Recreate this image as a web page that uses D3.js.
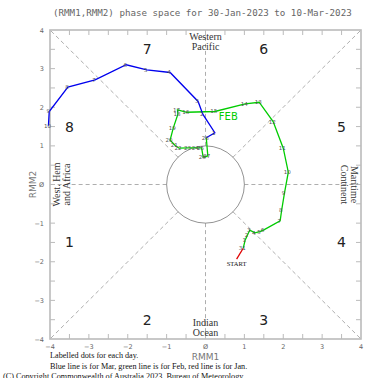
<!DOCTYPE html>
<html lang="en">
<head>
<meta charset="UTF-8">
<title>RMM phase space</title>
<script src="https://d3js.org/d3.v7.min.js"></script>
<style>
    body { margin: 0; background: #fff; }
    svg { display: block; }
</style>
</head>
<body>
<script>

    const w = 370;
    const h = 378;

    // days
    const janDays = [30, 31];
    const janX = [0.80, 0.97];
    const janY = [-1.93, -1.65];

    const febDays = d3.range(1, 29);
    const febX = [1.02, 1.08, 1.14, 1.27, 1.40, 1.49, 1.92, 1.96, 2.03, 2.13,
                  2.00, 1.74, 1.38, 1.02, 0.24, -0.48, -0.72, -0.71, -0.83, -0.91,
                  -0.78, -0.68, -0.44, -0.24, -0.10, -0.06, 0.06, 0.02];
    const febY = [-1.44, -1.31, -1.18, -1.25, -1.22, -1.18, -0.94, -0.66, -0.23, 0.32,
                  0.94, 1.63, 2.13, 2.09, 1.89, 1.87, 1.93, 1.82, 1.46, 1.15,
                  1.01, 0.94, 0.95, 0.95, 0.95, 0.71, 0.74, 1.21];

    const marDays = d3.range(1, 11);
    const marX = [0.24, -0.07, -0.19, -0.91, -1.51, -2.04, -2.84, -3.54, -4.02, -4.04];
    const marY = [1.34, 1.82, 2.15, 2.90, 2.97, 3.10, 2.71, 2.52, 1.89, 1.52];

    const ticks = [-4, -3, -2, -1, 0, 1, 2, 3, 4];
    const phaseLabels = [
        { p: "1", x: -3.5, y: -1.5 }, { p: "2", x: -1.5, y: -3.5 },
        { p: "3", x: 1.5, y: -3.5 }, { p: "4", x: 3.5, y: -1.5 },
        { p: "5", x: 3.5, y: 1.5 }, { p: "6", x: 1.5, y: 3.5 },
        { p: "7", x: -1.5, y: 3.5 }, { p: "8", x: -3.5, y: 1.5 }];

    const x = d3.scaleLinear().domain([-4, 4]).range([50, 361]);
    const y = d3.scaleLinear().domain([-4, 4]).range([339, 30]);

    const svg = d3.select("body").append("svg")
        .attr("width", w)
        .attr("height", h);

    // title
    svg.append("text")
        .attr("x", 53).attr("y", 16)
        .attr("font-family", "DejaVu Sans Mono")
        .attr("font-size", 9.2)
        .attr("fill", "#666")
        .text("(RMM1,RMM2) phase space for 30-Jan-2023 to 10-Mar-2023");

    // dashed phase dividers
    const dash = svg.append("g")
        .attr("stroke", "#999")
        .attr("stroke-width", 0.8)
        .attr("stroke-dasharray", "4,3")
        .attr("fill", "none");
    const r45 = Math.SQRT1_2;
    [[1, 1], [1, -1], [-1, 1], [-1, -1]].forEach(s => {
        dash.append("line")
            .attr("x1", x(s[0] * r45)).attr("y1", y(s[1] * r45))
            .attr("x2", x(s[0] * 4)).attr("y2", y(s[1] * 4));
    });
    [[0, 1], [0, -1], [1, 0], [-1, 0]].forEach(s => {
        dash.append("line")
            .attr("x1", x(s[0])).attr("y1", y(s[1]))
            .attr("x2", x(s[0] * 4)).attr("y2", y(s[1] * 4));
    });

    // unit circle
    svg.append("ellipse")
        .attr("cx", x(0)).attr("cy", y(0))
        .attr("rx", x(1) - x(0)).attr("ry", y(0) - y(1))
        .attr("fill", "none")
        .attr("stroke", "#777")
        .attr("stroke-width", 0.8);

    // frame + inward ticks
    const frame = svg.append("g").attr("stroke", "#bbb");
    frame.append("rect")
        .attr("x", x(-4)).attr("y", y(4))
        .attr("width", x(4) - x(-4)).attr("height", y(-4) - y(4))
        .attr("fill", "none")
        .attr("stroke-width", 1.6);
    const minor = d3.range(-3.5, 4, 0.5);
    minor.forEach(t => {
        frame.append("line").attr("x1", x(t)).attr("x2", x(t)).attr("y1", y(4)).attr("y2", y(4) + 5);
        frame.append("line").attr("x1", x(t)).attr("x2", x(t)).attr("y1", y(-4)).attr("y2", y(-4) - 5);
        frame.append("line").attr("y1", y(t)).attr("y2", y(t)).attr("x1", x(-4)).attr("x2", x(-4) + 5);
        frame.append("line").attr("y1", y(t)).attr("y2", y(t)).attr("x1", x(4)).attr("x2", x(4) - 5);
    });

    // tick labels
    const fmt = d => (d < 0 ? "\u2212" + Math.abs(d) : d === 0 ? "\u00d8" : String(d));
    svg.append("g").selectAll("text")
        .data(ticks).enter().append("text")
        .attr("x", d => x(d)).attr("y", y(-4) + 10)
        .attr("text-anchor", "middle")
        .attr("font-family", "DejaVu Sans")
        .attr("font-size", 6.5)
        .attr("fill", "#666")
        .text(fmt);
    svg.append("g").selectAll("text")
        .data(ticks).enter().append("text")
        .attr("x", x(-4) - 6).attr("y", d => y(d) + 2.5)
        .attr("text-anchor", "end")
        .attr("font-family", "DejaVu Sans")
        .attr("font-size", 6.5)
        .attr("fill", "#666")
        .text(fmt);

    // axis titles
    svg.append("text")
        .attr("x", x(0)).attr("y", 360)
        .attr("text-anchor", "middle")
        .attr("font-family", "DejaVu Sans")
        .attr("font-size", 9)
        .attr("fill", "#777")
        .text("RMM1");
    svg.append("text")
        .attr("transform", "translate(36," + y(0) + ") rotate(-90)")
        .attr("text-anchor", "middle")
        .attr("font-family", "DejaVu Sans")
        .attr("font-size", 9)
        .attr("fill", "#777")
        .text("RMM2");

    // phase numbers
    svg.append("g").selectAll("text")
        .data(phaseLabels).enter().append("text")
        .attr("x", d => x(d.x)).attr("y", d => y(d.y) + 5)
        .attr("text-anchor", "middle")
        .attr("font-family", "DejaVu Sans")
        .attr("font-size", 14)
        .attr("fill", "#222")
        .text(d => d.p);

    // region names
    const region = (lines, tx, ty, rot) => {
        const g = svg.append("g")
            .attr("transform", "translate(" + tx + "," + ty + ") rotate(" + rot + ")");
        lines.forEach((t, i) => {
            g.append("text")
                .attr("x", 0).attr("y", (i - (lines.length - 1) / 2) * 10 + 3.5)
                .attr("text-anchor", "middle")
                .attr("font-family", "Liberation Serif")
                .attr("font-size", 10)
                .attr("fill", "#333")
                .text(t);
        });
    };
    region(["Western", "Pacific"], x(0), y(3.7), 0);
    region(["Indian", "Ocean"], x(0), y(-3.7), 0);
    region(["West. Hem", "and Africa"], x(-3.7), y(0), -90);
    region(["Maritime", "Continent"], x(3.7), y(0), 90);

    // trajectories
    const line = d3.line().x(d => x(d.x)).y(d => y(d.y));
    const jan = janDays.map((d, i) => ({ day: d, x: janX[i], y: janY[i] }));
    const feb = febDays.map((d, i) => ({ day: d, x: febX[i], y: febY[i] }));
    const mar = marDays.map((d, i) => ({ day: d, x: marX[i], y: marY[i] }));

    const segs = [
        { pts: jan, colour: "#e00000" },
        { pts: [jan[jan.length - 1]].concat(feb), colour: "#00cc00" },
        { pts: [feb[feb.length - 1]].concat(mar), colour: "#0000ee" }];
    segs.forEach(s => {
        svg.append("path")
            .datum(s.pts)
            .attr("d", line)
            .attr("fill", "none")
            .attr("stroke", s.colour)
            .attr("stroke-width", 1.3);
    });

    // day labels
    const all = jan.concat(feb, mar);
    svg.append("g").selectAll("text")
        .data(all.slice(1)).enter().append("text")
        .attr("x", d => x(d.x) - 1).attr("y", d => y(d.y) + 2)
        .attr("text-anchor", "middle")
        .attr("font-family", "DejaVu Sans")
        .attr("font-size", 5.5)
        .attr("fill", "#555")
        .text(d => d.day);

    svg.append("text")
        .attr("x", x(jan[0].x)).attr("y", y(jan[0].y) + 7)
        .attr("text-anchor", "middle")
        .attr("font-family", "Liberation Serif")
        .attr("font-size", 6.5)
        .attr("fill", "#111")
        .text("START");

    svg.append("text")
        .attr("x", x(feb[14].x) + 4).attr("y", y(feb[14].y) + 9)
        .attr("font-family", "DejaVu Sans")
        .attr("font-size", 10)
        .attr("fill", "#00cc00")
        .text("FEB");

    // footnotes
    const foot = [
        { t: "Labelled dots for each day.", x: 50, y: 358 },
        { t: "Blue line is for Mar, green line is for Feb, red line is for Jan.", x: 50, y: 368.5 },
        { t: "(C) Copyright Commonwealth of Australia 2023, Bureau of Meteorology", x: 3, y: 379 }];
    svg.append("g").selectAll("text")
        .data(foot).enter().append("text")
        .attr("x", d => d.x).attr("y", d => d.y)
        .attr("font-family", "Liberation Serif")
        .attr("font-size", 8.2)
        .attr("fill", "#111")
        .text(d => d.t);

</script>
</body>
</html>
